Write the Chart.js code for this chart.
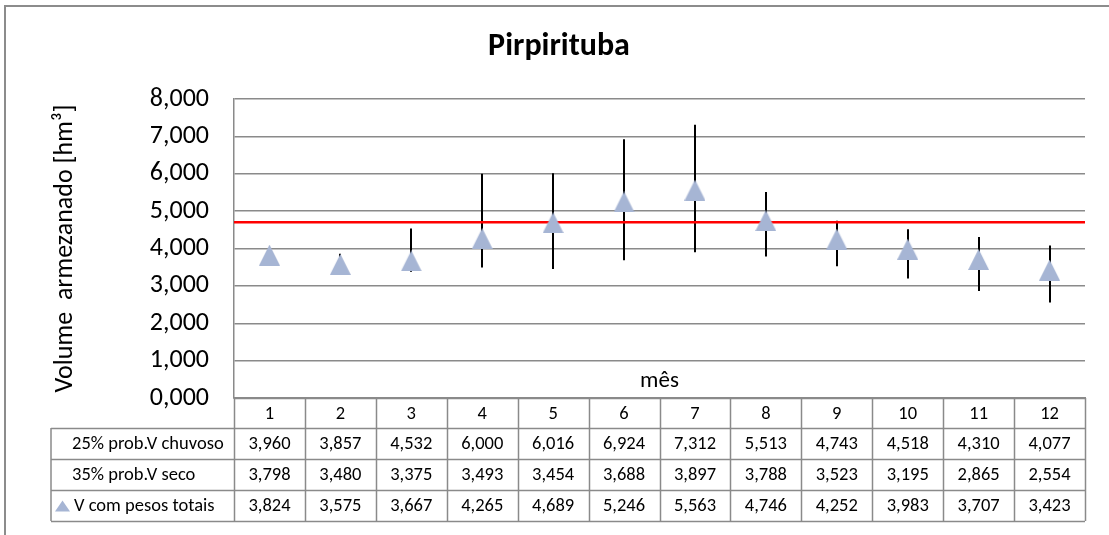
<!DOCTYPE html>
<html>
<head>
<meta charset="utf-8">
<script src="https://cdn.jsdelivr.net/npm/chart.js@4.4.1/dist/chart.umd.min.js"></script>
<style>
  html, body { margin: 0; padding: 0; background: #ffffff; }
  #wrap { position: relative; width: 1109px; height: 535px; }
</style>
</head>
<body>
<div id="wrap"><canvas id="c" width="1109" height="535"></canvas></div>
<script>
// ---- data ----
const categories = ['1','2','3','4','5','6','7','8','9','10','11','12'];
const chuvoso = [3.960, 3.857, 4.532, 6.000, 6.016, 6.924, 7.312, 5.513, 4.743, 4.518, 4.310, 4.077];
const seco    = [3.798, 3.480, 3.375, 3.493, 3.454, 3.688, 3.897, 3.788, 3.523, 3.195, 2.865, 2.554];
const pesos   = [3.824, 3.575, 3.667, 4.265, 4.689, 5.246, 5.563, 4.746, 4.252, 3.983, 3.707, 3.423];
const referencia = 4.7;
const rowLabels = ['25% prob.V chuvoso', '35% prob.V seco', 'V com pesos totais'];
const titleText = 'Pirpirituba';
const yTitle = 'Volume  armezanado [hm³]';
const xTitle = 'mês';

const FONT = 'Carlito, Calibri, Lato, "Open Sans", sans-serif';
const GRID = '#8a8a8a';
const MARK = '#a6b5d4';
const fmt = v => v.toFixed(3).replace('.', ',');

// triangle marker image
const tri = document.createElement('canvas');
tri.width = 21; tri.height = 21;
(function(){
  const g = tri.getContext('2d');
  g.fillStyle = MARK;
  g.beginPath(); g.moveTo(10.5, 0); g.lineTo(21, 21); g.lineTo(0, 21); g.closePath(); g.fill();
})();

const extras = {
  id: 'extras',
  beforeDraw(chart) {
    const ctx = chart.ctx;
    ctx.save();
    ctx.strokeStyle = '#8c8c8c';
    ctx.lineWidth = 2;
    ctx.beginPath();
    ctx.moveTo(5, 535); ctx.lineTo(5, 6); ctx.lineTo(1109, 6);
    ctx.stroke();
    ctx.restore();
  },
  beforeDatasetsDraw(chart) {
    const ctx = chart.ctx, x = chart.scales.x, y = chart.scales.y, a = chart.chartArea;
    ctx.save();
    ctx.strokeStyle = '#000000';
    ctx.lineWidth = 2;
    for (let i = 0; i < categories.length; i++) {
      const px = Math.round(x.getPixelForValue(i));
      ctx.beginPath();
      ctx.moveTo(px, y.getPixelForValue(seco[i]));
      ctx.lineTo(px, y.getPixelForValue(chuvoso[i]));
      ctx.stroke();
    }
    ctx.strokeStyle = '#ff0000';
    ctx.lineWidth = 2.5;
    const ry = y.getPixelForValue(referencia);
    ctx.beginPath(); ctx.moveTo(a.left, ry); ctx.lineTo(a.right, ry); ctx.stroke();
    ctx.restore();
  },
  afterDraw(chart) {
    const ctx = chart.ctx, x = chart.scales.x, a = chart.chartArea;
    const n = categories.length;
    const bounds = [a.left];
    for (let i = 1; i < n; i++) bounds.push((x.getPixelForValue(i - 1) + x.getPixelForValue(i)) / 2);
    bounds.push(a.right);
    const top = a.bottom, headH = 30, rowH = 31;
    const rowsTop = top + headH, bottom = rowsTop + rowH * 3;
    const labelLeft = 51;
    ctx.save();
    // x title
    ctx.fillStyle = '#000';
    ctx.font = '23px ' + FONT;
    ctx.textAlign = 'center'; ctx.textBaseline = 'middle';
    ctx.fillText(xTitle, (a.left + a.right) / 2, top - 17);
    // grid lines of table
    ctx.strokeStyle = GRID; ctx.lineWidth = 1.5;
    ctx.beginPath();
    for (let i = 0; i <= n; i++) {
      const bx = Math.round(bounds[i]) + 0.5;
      ctx.moveTo(bx, top); ctx.lineTo(bx, bottom);
    }
    ctx.moveTo(labelLeft, rowsTop); ctx.lineTo(labelLeft, bottom);
    ctx.moveTo(a.left, top + 0.5); ctx.lineTo(a.right, top + 0.5);
    for (let r = 0; r <= 3; r++) {
      const yy = Math.round(rowsTop + r * rowH) + 0.5;
      ctx.moveTo(labelLeft, yy); ctx.lineTo(a.right, yy);
    }
    ctx.stroke();
    // header
    ctx.font = '18.5px ' + FONT;
    ctx.fillStyle = '#000';
    for (let i = 0; i < n; i++) {
      const cx = (bounds[i] + bounds[i + 1]) / 2;
      ctx.fillText(categories[i], cx, top + headH / 2 + 1);
    }
    const rows = [chuvoso, seco, pesos];
    for (let r = 0; r < 3; r++) {
      const cy = rowsTop + r * rowH + rowH / 2 + 1;
      for (let i = 0; i < n; i++) {
        const cx = (bounds[i] + bounds[i + 1]) / 2;
        ctx.textAlign = 'center';
        ctx.fillText(fmt(rows[r][i]), cx, cy);
      }
      ctx.textAlign = 'left';
      if (r === 2) {
        ctx.fillStyle = MARK;
        ctx.beginPath();
        ctx.moveTo(62.5, cy - 6); ctx.lineTo(70, cy + 5); ctx.lineTo(55, cy + 5); ctx.closePath(); ctx.fill();
        ctx.fillStyle = '#000';
        ctx.fillText(rowLabels[r], 74, cy);
      } else {
        ctx.fillText(rowLabels[r], 72, cy);
      }
    }
    ctx.restore();
  }
};

new Chart(document.getElementById('c'), {
  type: 'line',
  data: {
    labels: categories,
    datasets: [{
      label: rowLabels[2],
      data: pesos,
      showLine: false,
      pointStyle: tri,
      pointRadius: 11,
      pointHoverRadius: 11,
      backgroundColor: MARK,
      borderColor: MARK
    }]
  },
  options: {
    responsive: false,
    animation: false,
    events: [],
    layout: { padding: { left: 33, right: 24, top: 0, bottom: 137 } },
    plugins: {
      legend: { display: false },
      tooltip: { enabled: false },
      title: {
        display: true,
        text: titleText,
        color: '#000',
        font: { family: FONT, size: 32, weight: 'bold' },
        padding: { top: 28, bottom: 32.6 }
      }
    },
    scales: {
      x: {
        type: 'category',
        offset: true,
        grid: { display: false, drawTicks: false },
        border: { display: true, color: GRID, width: 1.5 },
        ticks: { display: false }
      },
      y: {
        min: 0, max: 8,
        afterFit(s) { s.width = 201; },
        ticks: {
          stepSize: 1,
          padding: 25,
          color: '#000',
          font: { family: FONT, size: 26 },
          callback: v => fmt(v)
        },
        grid: { color: GRID, lineWidth: 1.5, drawTicks: false },
        border: { display: true, color: GRID, width: 1.5 },
        title: {
          display: true,
          text: yTitle,
          color: '#000',
          font: { family: FONT, size: 26 },
          padding: { top: 17, bottom: 0 }
        }
      }
    }
  },
  plugins: [extras]
});
</script>
</body>
</html>
